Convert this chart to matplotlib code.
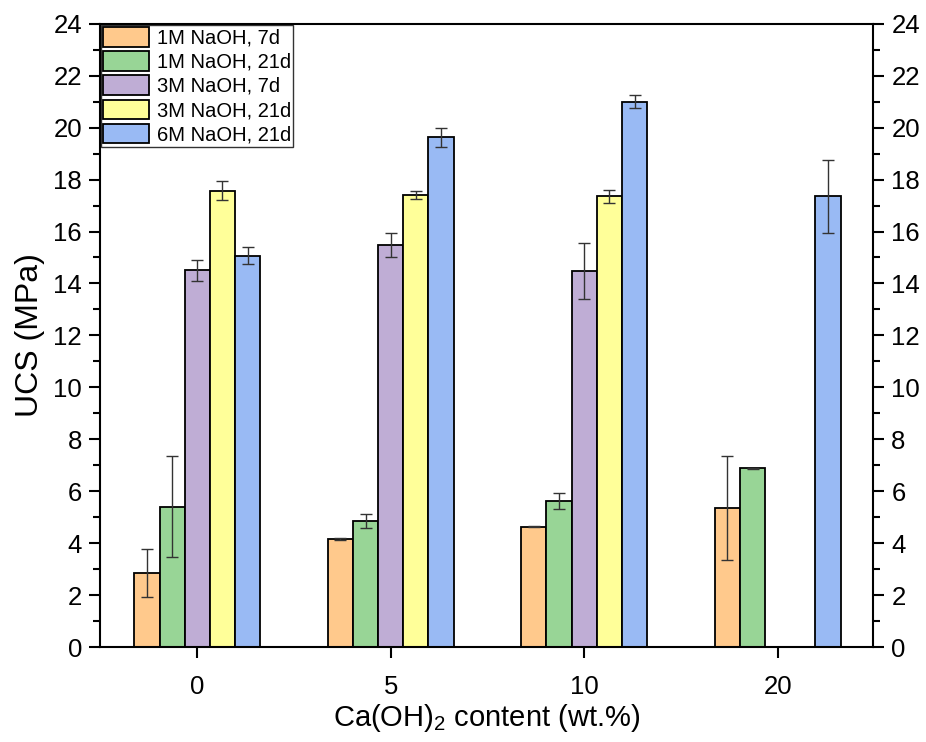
import numpy as np
import matplotlib
matplotlib.use("Agg")
import matplotlib.pyplot as plt
from matplotlib.ticker import MultipleLocator

plt.rcParams['font.family'] = ['Liberation Sans', 'DejaVu Sans']
plt.rcParams['mathtext.default'] = 'regular'

# UCS-Werte (MPa) je Ca(OH)2-Gehalt
categories = ['0', '5', '10', '20']
labels = ['1M NaOH, 7d', '1M NaOH, 21d', '3M NaOH, 7d', '3M NaOH, 21d', '6M NaOH, 21d']

m1_7d = [2.85, 4.15, 4.63, 5.36]
m1_7d_err = [0.92, 0.03, 0.02, 2.0]
m1_21d = [5.4, 4.85, 5.63, 6.88]
m1_21d_err = [1.95, 0.26, 0.32, 0.02]
m3_7d = [14.5, 15.48, 14.48, np.nan]
m3_7d_err = [0.4, 0.47, 1.07, 0]
m3_21d = [17.57, 17.41, 17.35, np.nan]
m3_21d_err = [0.37, 0.15, 0.24, 0]
m6_21d = [15.07, 19.62, 21.0, 17.35]
m6_21d_err = [0.33, 0.37, 0.25, 1.41]

values = [m1_7d, m1_21d, m3_7d, m3_21d, m6_21d]
errors = [m1_7d_err, m1_21d_err, m3_7d_err, m3_21d_err, m6_21d_err]
colors = ['#FFC98C', '#98D596', '#BFADD5', '#FFFF99', '#99BAF4']

fig = plt.figure(figsize=(9.26, 7.42), dpi=100)
ax = fig.add_axes([0.108, 0.128, 0.835, 0.84])

x = np.arange(len(categories))
w = 0.13
for i, (v, e, c, lab) in enumerate(zip(values, errors, colors, labels)):
    pos = x + (i - 2) * w
    ax.bar(pos, v, w, color=c, edgecolor='black', linewidth=1.3, label=lab, zorder=2)
    ax.errorbar(pos, v, yerr=e, fmt='none', ecolor='#333333', elinewidth=1.0,
                capsize=4.5, capthick=1.0, zorder=3)

ax.set_xlim(-0.503, 3.494)
ax.set_ylim(0, 24)
ax.set_xticks(x)
ax.set_xticklabels(categories)
ax.yaxis.set_major_locator(MultipleLocator(2))
ax.yaxis.set_minor_locator(MultipleLocator(1))

for s in ax.spines.values():
    s.set_linewidth(1.5)

ax.tick_params(axis='y', which='major', direction='out', length=8, width=1.5,
               labelsize=18.5, pad=5, right=True, labelright=True)
ax.tick_params(axis='y', which='minor', direction='out', length=5, width=1.5, right=True)
ax.tick_params(axis='x', which='major', direction='out', length=8, width=1.5,
               labelsize=18.5, pad=12, top=False)

ax.set_ylabel('UCS (MPa)', fontsize=23, labelpad=6)
ax.set_xlabel('Ca(OH)$_2$ content (wt.%)', fontsize=21, labelpad=2)

leg = ax.legend(loc='upper left', fontsize=14.5, frameon=True, fancybox=False,
                edgecolor='black', borderaxespad=0.05, borderpad=0.12,
                handlelength=2.25, handleheight=1.1, labelspacing=0.18,
                handletextpad=0.4)
leg.get_frame().set_linewidth(1.0)

fig.savefig('out.png', dpi=100)
